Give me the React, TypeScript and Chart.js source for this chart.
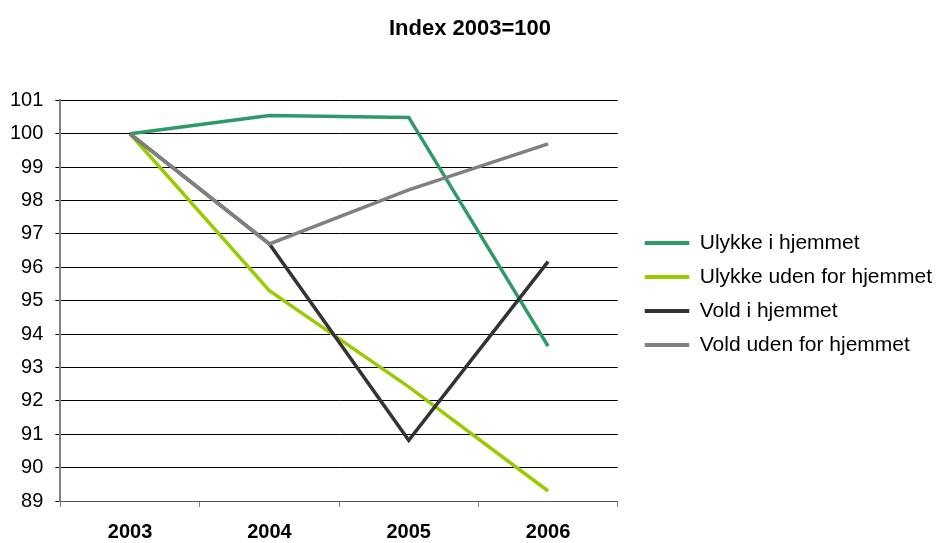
import React, { useEffect, useRef } from "react";
import { Chart, registerables } from "chart.js";

Chart.register(...registerables);

const categories = ["2003", "2004", "2005", "2006"];
const ulykkeIHjemmet = [100, 100.55, 100.49, 93.64];
const ulykkeUdenFor = [100, 95.3, 92.42, 89.3];
const voldIHjemmet = [100, 96.7, 90.82, 96.17];
const voldUdenFor = [100, 96.7, 98.32, 99.7];
const seriesNames = ["Ulykke i hjemmet", "Ulykke uden for hjemmet", "Vold i hjemmet", "Vold uden for hjemmet"];
const seriesColors = ["#2E9A68", "#99CC00", "#333333", "#808080"];
const yTicks = { min: 89, max: 101, step: 1 };
const titleText = "Index 2003=100";

const FONT = "'Liberation Sans', Arial, sans-serif";

export default function App() {
  const ref = useRef<HTMLCanvasElement | null>(null);

  useEffect(() => {
    if (!ref.current) return;
    const values = [ulykkeIHjemmet, ulykkeUdenFor, voldIHjemmet, voldUdenFor];
    const chart = new Chart(ref.current, {
      type: "line",
      data: {
        labels: categories,
        datasets: seriesNames.map((name, i) => ({
          label: name,
          data: values[i],
          borderColor: seriesColors[i],
          backgroundColor: seriesColors[i],
          borderWidth: 3.5,
          pointRadius: 0,
          tension: 0,
          fill: false,
          order: 3 - i,
        })),
      },
      options: {
        animation: false,
        responsive: false,
        layout: { padding: { left: -2, right: -5, top: 0, bottom: -14 } },
        plugins: {
          title: {
            display: true,
            text: titleText,
            color: "#000",
            font: { family: FONT, size: 22, weight: "bold" },
            padding: { top: 16, bottom: 58 },
          },
          legend: {
            position: "right",
            maxWidth: 340,
            title: {
              display: true,
              text: "",
              font: { size: 1, lineHeight: 1 },
              padding: { top: 30, bottom: 0 },
            },
            labels: {
              color: "#000",
              font: { family: FONT, size: 21 },
              boxWidth: 44.5,
              boxHeight: 4,
              padding: 13,
              sort: (a: any, b: any) => seriesNames.indexOf(a.text) - seriesNames.indexOf(b.text),
              generateLabels: (chart: any) => {
                const base = (Chart.defaults.plugins.legend.labels as any).generateLabels(chart);
                return base.map((l: any) => ({
                  ...l,
                  fillStyle: chart.data.datasets[l.datasetIndex].borderColor,
                  lineWidth: 0,
                  strokeStyle: "rgba(0,0,0,0)",
                }));
              },
            },
          },
          tooltip: { enabled: false },
        },
        scales: {
          x: {
            offset: true,
            grid: {
              display: true,
              offset: true,
              drawOnChartArea: false,
              drawTicks: true,
              tickLength: 6,
              color: "#808080",
            },
            border: { display: true, color: "#555555", width: 1 },
            ticks: {
              color: "#000",
              font: { family: FONT, size: 20, weight: "bold", lineHeight: 1 },
              padding: 15,
              maxRotation: 0,
            },
          },
          y: {
            min: yTicks.min,
            max: yTicks.max,
            grid: { color: "#000", lineWidth: 1, drawTicks: true, tickLength: 5 },
            border: { display: true, color: "#808080", width: 2 },
            ticks: {
              stepSize: yTicks.step,
              color: "#000",
              font: { family: FONT, size: 20 },
              padding: 12,
            },
          },
          yDummy: {
            position: "right",
            display: true,
            grid: { display: false },
            border: { display: false },
            ticks: { display: false },
            afterFit: (s: any) => {
              s.width = 14;
            },
          } as any,
        },
      } as any,
    });
    return () => chart.destroy();
  }, []);

  return (
    <div style={{ position: "fixed", left: 0, top: 0, width: 937, height: 543, background: "#fff" }}>
      <canvas ref={ref} width={937} height={543} style={{ width: 937, height: 543, display: "block" }} />
    </div>
  );
}
